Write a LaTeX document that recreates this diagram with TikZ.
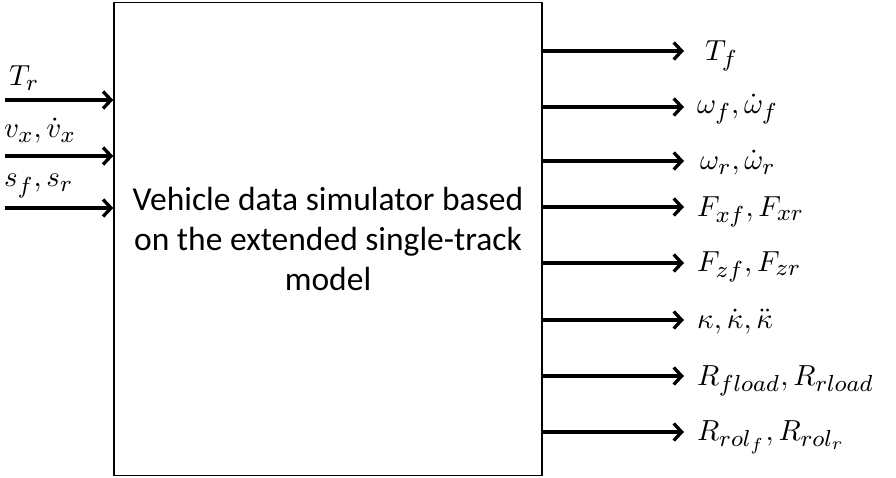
\documentclass[tikz,border=0pt]{standalone}
\usepackage{graphicx}
\usepackage{fontspec}
\setmainfont{Carlito}
\DeclareMathSizes{10}{10}{8}{6}
\newcommand{\mlab}[1]{\scalebox{2.9}{$#1$}}
\usetikzlibrary{arrows.meta}
\begin{document}
\begin{tikzpicture}[x=1pt,y=-1pt,
  sig/.style={line width=3.3pt,-{Straight Barb[length=8pt,width=17pt,line width=3.3pt]}},
  lab/.style={anchor=west,inner sep=0pt},
  mainbox/.style={draw,line width=1.4pt,minimum width=428pt,minimum height=473pt,
    align=center,font=\fontsize{33.5}{40}\selectfont}]
\useasboundingbox (0,0) rectangle (896,478);
\node[mainbox] (box) at (328,239) {Vehicle data simulator based\\on the extended single-track\\model};
% inputs
\coordinate (i1) at (5,100);
\coordinate (i2) at (5,156);
\coordinate (i3) at (5,208);
\draw[sig] (i1) -- (i1 -| box.west);
\draw[sig] (i2) -- (i2 -| box.west);
\draw[sig] (i3) -- (i3 -| box.west);
\node[lab] (li1) at (9,78) {\mlab{T_r}};
\node[lab] (li2) at (4,131) {\mlab{v_x,\dot{v}_x}};
\node[lab] (li3) at (4,186) {\mlab{s_f,s_r}};
% outputs
\foreach \n/\y in {1/51,2/107,3/161,4/207,5/263,6/320,7/376,8/432}{
  \coordinate (o\n) at (684,\y);
  \draw[sig] (box.east |- o\n) -- (o\n);
}
\node[lab] (lo1) at (705,56) {\mlab{T_f}};
\node[lab] (lo2) at (697,109) {\mlab{\omega_f,\dot{\omega}_f}};
\node[lab] (lo3) at (700,163) {\mlab{\omega_r,\dot{\omega}_r}};
\node[lab] (lo4) at (697,212) {\mlab{F_{xf},F_{xr}}};
\node[lab] (lo5) at (697,267) {\mlab{F_{zf},F_{zr}}};
\node[lab] (lo6) at (697,322) {\mlab{\kappa,\dot{\kappa},\ddot{\kappa}}};
\node[lab] (lo7) at (697,381) {\mlab{R_{fload},R_{rload}}};
\node[lab] (lo8) at (697,437) {\mlab{R_{rol_f},R_{rol_r}}};
\end{tikzpicture}
\end{document}
